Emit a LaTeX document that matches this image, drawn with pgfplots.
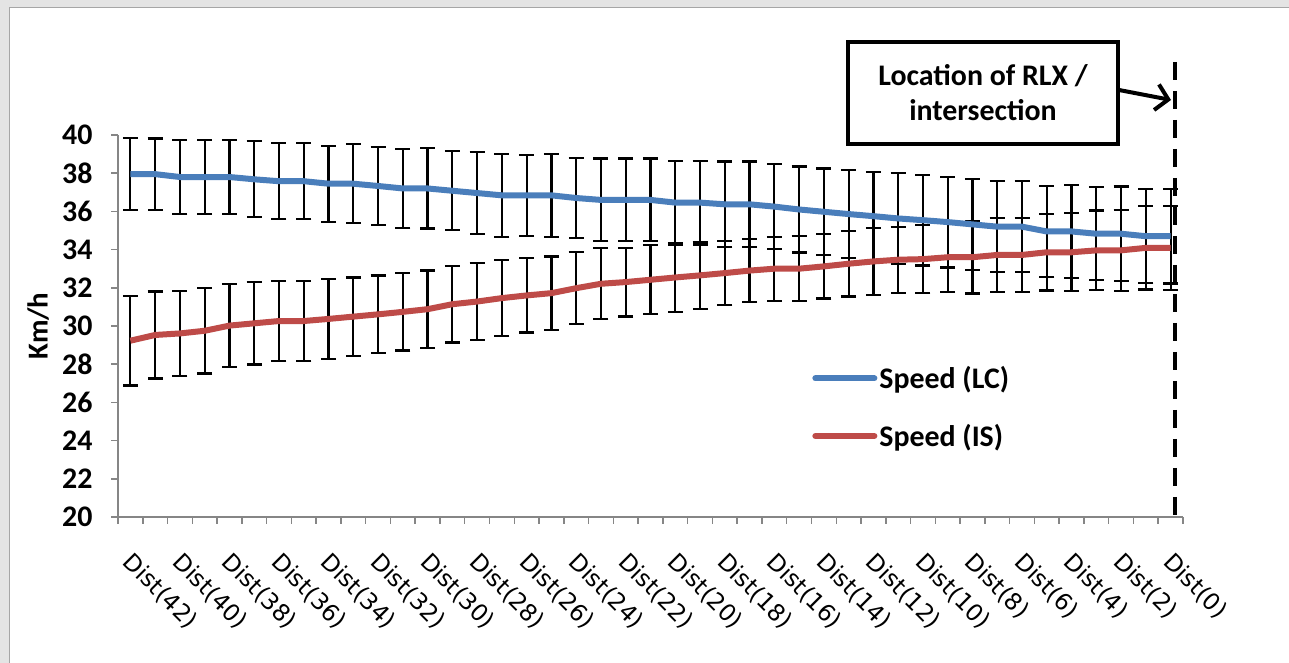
\documentclass[border=0pt]{standalone}
\usepackage{fontspec}
\setmainfont{Carlito}
\newfontfamily\dejavu{DejaVu Sans}
\usepackage{pgfplots}
\pgfplotsset{compat=1.18}
\usepackage{pgfplotstable}
\usetikzlibrary{arrows.meta}
\definecolor{lcblue}{HTML}{4A7EBB}
\definecolor{isred}{HTML}{BE4B48}
\definecolor{axgray}{HTML}{868686}
\definecolor{bggray}{HTML}{E4E4E4}
\definecolor{framegray}{HTML}{A6A6A6}

\pgfplotstableread{
x lc lce is ise
0 37.95 1.89 29.23 2.35
1 37.95 1.87 29.53 2.28
2 37.80 1.94 29.61 2.24
3 37.80 1.93 29.75 2.24
4 37.80 1.93 30.02 2.18
5 37.68 1.99 30.14 2.16
6 37.58 1.99 30.26 2.10
7 37.58 1.99 30.26 2.10
8 37.45 1.99 30.37 2.08
9 37.45 2.06 30.49 2.05
10 37.33 2.06 30.61 2.03
11 37.20 2.06 30.74 2.02
12 37.20 2.10 30.88 2.02
13 37.08 2.07 31.14 2.00
14 36.96 2.13 31.28 2.00
15 36.84 2.18 31.46 2.00
16 36.84 2.12 31.60 1.94
17 36.84 2.17 31.72 1.92
18 36.70 2.10 31.98 1.88
19 36.60 2.17 32.21 1.86
20 36.60 2.17 32.30 1.80
21 36.60 2.17 32.42 1.80
22 36.46 2.19 32.54 1.80
23 36.46 2.19 32.65 1.75
24 36.37 2.24 32.77 1.68
25 36.37 2.24 32.90 1.65
26 36.25 2.23 33.00 1.68
27 36.10 2.25 33.00 1.70
28 35.98 2.27 33.12 1.68
29 35.86 2.30 33.26 1.72
30 35.75 2.32 33.38 1.75
31 35.63 2.37 33.47 1.73
32 35.54 2.37 33.50 1.77
33 35.44 2.38 33.60 1.83
34 35.32 2.38 33.60 1.90
35 35.20 2.38 33.72 1.95
36 35.20 2.38 33.72 1.93
37 34.95 2.40 33.86 2.00
38 34.95 2.44 33.86 2.04
39 34.83 2.44 33.96 2.09
40 34.83 2.47 33.96 2.13
41 34.70 2.47 34.09 2.18
42 34.70 2.48 34.09 2.20
}\speeddata

\begin{document}
\begin{tikzpicture}[x=1bp,y=1bp]
\useasboundingbox (0,0) rectangle (1289,663);
\fill[bggray] (0,0) rectangle (1289,663);
\fill[white] (9.5,-5) rectangle (1295,655.5);
\draw[framegray, line width=1.5bp] (9.5,-5) -- (9.5,655.5) -- (1295,655.5);
\begin{axis}[
  at={(118bp,146bp)}, anchor=south west,
  scale only axis, width=1065bp, height=382bp,
  xmin=-0.5, xmax=42.5, ymin=20, ymax=40,
  axis x line*=bottom, axis y line*=left,
  axis line style={axgray, line width=1.8bp},
  xtick={0,2,...,42},
  xticklabels={Dist(42),Dist(40),Dist(38),Dist(36),Dist(34),Dist(32),Dist(30),Dist(28),Dist(26),Dist(24),Dist(22),Dist(20),Dist(18),Dist(16),Dist(14),Dist(12),Dist(10),Dist(8),Dist(6),Dist(4),Dist(2),Dist(0)},
  minor xtick={-0.5,0.5,...,42.5},
  major x tick style={draw=none},
  minor x tick style={axgray, line width=1.5bp},
  ytick={20,22,...,40},
  major y tick style={axgray, line width=1.5bp},
  tick align=outside, major tick length=7bp, minor tick length=7bp,
  xticklabel style={font=\dejavu\fontsize{23.5}{23.5}\selectfont, xshift=4bp, yshift=-22bp, rotate=-45, anchor=north west},
  yticklabel style={font=\bfseries\fontsize{30}{30}\selectfont, xshift=-15bp},
  /pgf/number format/assume math mode=true,
  ylabel={Km/h},
  ylabel style={font=\bfseries\fontsize{29}{29}\selectfont, at={(axis description cs:-0.075,0.5)}, anchor=center},
  clip=false,
  legend style={at={(axis description cs:0.649,0.405)}, anchor=north west, draw=none, fill=none,
    font=\bfseries\fontsize{30}{30}\selectfont, row sep=30bp,
    nodes={inner sep=2bp}},
  legend cell align=left,
  legend image code/.code={\draw[#1, line cap=round] (-4bp,0bp) -- (55bp,0bp);},
]
\addplot[draw=none, mark=none, forget plot,
  error bars/.cd, y dir=both, y explicit,
  error bar style={black, line width=2.2bp},
  error mark options={black, line width=2.2bp, mark size=7.5bp, rotate=90}]
  table[x=x, y=lc, y error=lce] {\speeddata};
\addplot[draw=none, mark=none, forget plot,
  error bars/.cd, y dir=both, y explicit,
  error bar style={black, line width=2.2bp},
  error mark options={black, line width=2.2bp, mark size=7.5bp, rotate=90}]
  table[x=x, y=is, y error=ise] {\speeddata};
\addplot[lcblue, line width=6bp, line join=round, mark=none] table[x=x, y=lc] {\speeddata};
\addlegendentry{Speed (LC)}
\addplot[isred, line width=6bp, line join=round, mark=none] table[x=x, y=is] {\speeddata};
\addlegendentry{Speed (IS)}
\end{axis}
\draw[black, line width=4.5bp, dash pattern=on 18bp off 11bp] (1175,601) -- (1175,141);
\node[draw=black, line width=3.5bp, minimum width=270bp, minimum height=102bp, inner sep=0pt,
  align=center, font=\bfseries\fontsize{30}{35}\selectfont] at (983,570) {Location of RLX /\\intersection};
\draw[black, line width=4bp, -{Straight Barb[length=12bp, width=26bp]}] (1119,573) -- (1171,563);
\end{tikzpicture}
\end{document}
